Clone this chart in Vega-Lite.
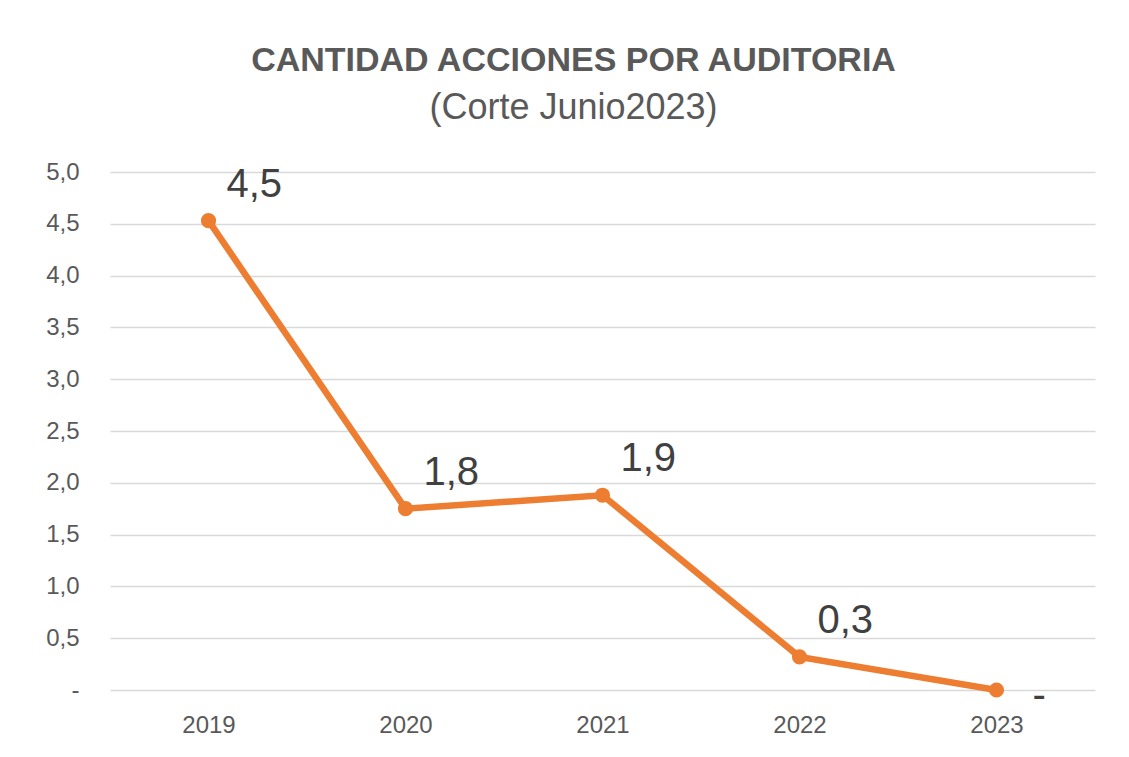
{
  "$schema": "https://vega.github.io/schema/vega-lite/v6.json",
  "width": 985,
  "height": 518,
  "autosize": {"type": "none"},
  "padding": {"left": 110, "top": 172, "right": 34, "bottom": 67},
  "background": "white",
  "title": {
    "text": "CANTIDAD ACCIONES POR AUDITORIA",
    "subtitle": "(Corte Junio2023)",
    "anchor": "middle",
    "frame": "group",
    "dx": -29,
    "offset": 34,
    "font": "Liberation Sans",
    "fontSize": 34,
    "fontWeight": "bold",
    "color": "#595959",
    "subtitleFont": "Liberation Sans",
    "subtitleFontSize": 36,
    "subtitleColor": "#595959",
    "subtitlePadding": 13
  },
  "data": {
    "values": [
      {"anio": "2019", "valor": 4.53},
      {"anio": "2020", "valor": 1.75},
      {"anio": "2021", "valor": 1.88},
      {"anio": "2022", "valor": 0.32},
      {"anio": "2023", "valor": 0}
    ]
  },
  "transform": [
    {"calculate": "datum.valor == 0 ? '-' : replace(format(datum.valor, '.1f'), '.', ',')", "as": "etiqueta"}
  ],
  "encoding": {
    "x": {
      "field": "anio",
      "type": "ordinal",
      "scale": {"type": "point", "padding": 0.5},
      "axis": {
        "title": null,
        "labelAngle": 0,
        "domain": false,
        "ticks": false,
        "labelPadding": 23,
        "labelFont": "Liberation Sans",
        "labelFontSize": 24,
        "labelColor": "#595959",
        "grid": false
      }
    },
    "y": {
      "field": "valor",
      "type": "quantitative",
      "scale": {"domain": [0, 5], "nice": false},
      "axis": {
        "title": null,
        "values": [0, 0.5, 1, 1.5, 2, 2.5, 3, 3.5, 4, 4.5, 5],
        "labelExpr": "datum.value == 0 ? '-' : replace(format(datum.value, '.1f'), '.', ',')",
        "domain": false,
        "ticks": false,
        "labelPadding": 31,
        "labelFont": "Liberation Sans",
        "labelFontSize": 24,
        "labelColor": "#595959",
        "grid": true,
        "gridColor": "#D9D9D9",
        "gridWidth": 1.5
      }
    }
  },
  "layer": [
    {
      "mark": {"type": "line", "color": "#ED7D31", "strokeWidth": 6.5, "point": {"filled": true, "size": 230, "color": "#ED7D31", "opacity": 1}}
    },
    {
      "transform": [{"filter": "datum.anio != '2023'"}],
      "mark": {"type": "text", "align": "left", "baseline": "middle", "dx": 18, "dy": -36, "font": "Liberation Sans", "fontSize": 40, "color": "#404040"},
      "encoding": {"text": {"field": "etiqueta"}}
    },
    {
      "transform": [{"filter": "datum.anio == '2023'"}],
      "mark": {"type": "text", "align": "left", "baseline": "middle", "dx": 36, "dy": 6, "font": "Liberation Sans", "fontSize": 40, "color": "#404040"},
      "encoding": {"text": {"field": "etiqueta"}}
    }
  ],
  "config": {"view": {"stroke": null}}
}
